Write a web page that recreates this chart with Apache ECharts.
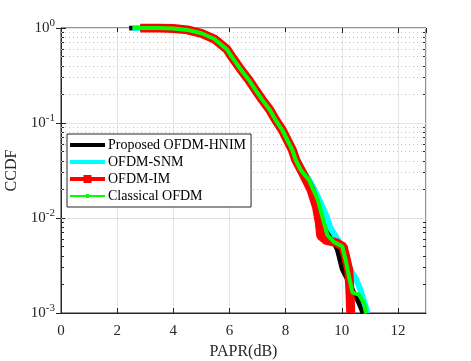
<!DOCTYPE html>
<html>
<head>
<meta charset="utf-8">
<script src="https://cdn.jsdelivr.net/npm/echarts@6/dist/echarts.min.js"></script>
<style>
  html, body { margin: 0; padding: 0; background: #fff; }
  #chart { width: 471px; height: 361px; }
</style>
</head>
<body>
<div id="chart"></div>
<script>
// PAPR (dB) / CCDF
const hnimX = [2.43, 3.0, 3.5, 4.0, 4.5, 5.0, 5.45, 5.9, 6.1, 6.39, 6.69, 6.93, 7.17, 7.44, 7.64, 7.88, 8.06, 8.24, 8.36, 8.54, 8.83, 9.15, 9.4, 9.6, 9.85, 10.02, 10.26, 10.44, 10.62, 10.76];
const hnimY = [1, 1, 1, 0.99, 0.955, 0.88, 0.77, 0.6, 0.49, 0.37, 0.284, 0.222, 0.175, 0.137, 0.108, 0.0844, 0.0662, 0.052, 0.0408, 0.032, 0.0251, 0.0155, 0.0085, 0.0066, 0.0046, 0.0029, 0.0021, 0.0016, 0.00126, 0.001];

const snmX = [2.55, 3.0, 3.5, 4.0, 4.5, 5.0, 5.45, 5.9, 6.1, 6.39, 6.69, 6.93, 7.17, 7.44, 7.64, 7.88, 8.06, 8.24, 8.4, 8.6, 8.9, 9.2, 9.45, 9.6, 9.85, 10.05, 10.2, 10.35, 10.5, 10.65, 10.8, 10.92];
const snmY = [1, 1, 1, 0.99, 0.955, 0.88, 0.77, 0.6, 0.49, 0.37, 0.284, 0.222, 0.175, 0.137, 0.108, 0.0844, 0.0662, 0.052, 0.042, 0.032, 0.0235, 0.0155, 0.0105, 0.0078, 0.006, 0.0048, 0.0035, 0.0027, 0.0023, 0.0018, 0.0013, 0.001];

const imX = [2.82, 3.0, 3.5, 4.0, 4.5, 5.0, 5.45, 5.9, 6.1, 6.39, 6.69, 6.93, 7.17, 7.44, 7.64, 7.88, 8.06, 8.24, 8.36, 8.6, 8.9, 9.1, 9.2, 9.25, 9.45, 9.8, 10.05, 10.15, 10.25, 10.29, 10.32];
const imY = [1, 1, 1, 0.99, 0.955, 0.88, 0.77, 0.6, 0.49, 0.37, 0.284, 0.222, 0.175, 0.137, 0.108, 0.0844, 0.0662, 0.052, 0.0408, 0.03, 0.02, 0.013, 0.009, 0.0065, 0.0058, 0.0055, 0.005, 0.0038, 0.0028, 0.0017, 0.001];

const ofdmX = [2.55, 3.0, 3.5, 4.0, 4.5, 5.0, 5.45, 5.9, 6.1, 6.39, 6.69, 6.93, 7.17, 7.44, 7.64, 7.88, 8.06, 8.24, 8.36, 8.54, 8.83, 9.15, 9.37, 9.49, 9.72, 10.02, 10.14, 10.26, 10.38, 10.62, 10.8, 10.86];
const ofdmY = [1, 1, 1, 0.99, 0.955, 0.88, 0.77, 0.6, 0.49, 0.37, 0.284, 0.222, 0.175, 0.137, 0.108, 0.0844, 0.0662, 0.052, 0.0408, 0.032, 0.0251, 0.0155, 0.0088, 0.0066, 0.0056, 0.005, 0.0036, 0.0024, 0.00165, 0.00155, 0.00126, 0.001];

const seriesNames = ['Proposed OFDM-HNIM', 'OFDM-SNM', 'OFDM-IM', 'Classical OFDM'];
const minorVals = [0.002, 0.003, 0.004, 0.005, 0.006, 0.007, 0.008, 0.009,
  0.02, 0.03, 0.04, 0.05, 0.06, 0.07, 0.08, 0.09,
  0.2, 0.3, 0.4, 0.5, 0.6, 0.7, 0.8, 0.9];

const zip = (xs, ys) => xs.map((x, i) => [x, ys[i]]);

const axisColor = '#262626';
const font = 'Liberation Serif, Times New Roman, serif';

// legend icons: plain line, line with square marker, thin line with dot
const iconThick = 'path://M0,0 L35,0 L35,4 L0,4 Z';
const iconSquare = 'path://M0,2 L35,2 L35,6 L0,6 Z M13.5,0 L21.5,0 L21.5,8 L13.5,8 Z';
const iconThin = 'path://M0,1 L35,1 L35,3 L0,3 Z M16,0 L19,0 L19,4 L16,4 Z';

const chart = echarts.init(document.getElementById('chart'), null, { renderer: 'canvas' });

const minorAxis = (pos) => ({
  type: 'log',
  logBase: 10,
  min: 0.001,
  max: 1,
  position: pos,
  axisLine: { show: false },
  axisLabel: { show: false },
  axisTick: { show: true, inside: true, length: 3, customValues: minorVals, lineStyle: { color: axisColor } },
  splitLine: { show: false }
});

const option = {
  backgroundColor: '#fff',
  animation: false,
  textStyle: { fontFamily: font },
  grid: {
    left: 61, right: 45, top: 28, bottom: 48,
    outerBoundsMode: 'none',
    containLabel: false,
    show: true,
    borderColor: axisColor,
    borderWidth: 1,
    backgroundColor: 'transparent'
  },
  legend: {
    orient: 'vertical',
    left: 67,
    top: 134,
    z: 20,
    itemWidth: 35,
    itemHeight: 9,
    itemGap: 1,
    padding: [3, 5, 3, 3],
    symbolKeepAspect: true,
    backgroundColor: '#fff',
    borderColor: axisColor,
    borderWidth: 1,
    borderRadius: 0,
    textStyle: { fontFamily: font, fontSize: 14, color: '#000', lineHeight: 16, padding: [0, 0, 0, -2] },
    data: [
      { name: seriesNames[0], icon: iconThick },
      { name: seriesNames[1], icon: iconThick },
      { name: seriesNames[2], icon: iconSquare },
      { name: seriesNames[3], icon: iconThin }
    ]
  },
  xAxis: [{
    type: 'value',
    min: 0,
    max: 13,
    interval: 2,
    name: 'PAPR(dB)',
    nameLocation: 'middle',
    nameGap: 31,
    nameTextStyle: { fontFamily: font, fontSize: 16, color: axisColor },
    axisLine: { lineStyle: { color: axisColor } },
    axisTick: { inside: true, length: 5, lineStyle: { color: axisColor } },
    axisLabel: { fontFamily: font, fontSize: 15, color: axisColor, margin: 11, showMaxLabel: false },
    splitLine: { show: true, lineStyle: { color: '#e5e5e5', width: 1 } }
  }, {
    type: 'value',
    min: 0,
    max: 13,
    interval: 2,
    position: 'top',
    axisLine: { show: false },
    axisTick: { inside: true, length: 5, lineStyle: { color: axisColor } },
    axisLabel: { show: false },
    splitLine: { show: false }
  }],
  yAxis: [{
    type: 'log',
    logBase: 10,
    min: 0.001,
    max: 1,
    name: 'CCDF',
    nameLocation: 'middle',
    nameGap: 29,
    nameTextStyle: { fontFamily: font, fontSize: 16, color: axisColor },
    axisLine: { show: true, lineStyle: { color: axisColor } },
    axisTick: { inside: true, length: 5, lineStyle: { color: axisColor } },
    axisLabel: {
      margin: 6,
      formatter: (v) => '{b|10}{s|' + Math.round(Math.log10(v)) + '}',
      rich: {
        b: { fontFamily: font, fontSize: 15, color: axisColor },
        s: { fontFamily: font, fontSize: 11, color: axisColor, padding: [0, 0, 9, 0] }
      }
    },
    splitLine: { show: true, lineStyle: { color: '#e5e5e5', width: 1 } }
  }, {
    type: 'log',
    logBase: 10,
    min: 0.001,
    max: 1,
    position: 'right',
    axisLine: { show: false },
    axisTick: { inside: true, length: 5, lineStyle: { color: axisColor } },
    axisLabel: { show: false },
    splitLine: { show: false }
  }, minorAxis('left'), minorAxis('right')],
  series: [
    {
      // minor dotted grid of the log axis
      name: 'minor-grid',
      type: 'line',
      data: [],
      silent: true,
      markLine: {
        silent: true,
        z: 1,
        symbol: 'none',
        label: { show: false },
        lineStyle: { color: '#c4c4c4', type: [1, 3], width: 1 },
        data: minorVals.map(v => ({ yAxis: v }))
      },
      z: 1
    },
    {
      name: seriesNames[0],
      type: 'line',
      data: zip(hnimX, hnimY),
      symbol: 'none',
      lineStyle: { color: '#000', width: 5 },
      itemStyle: { color: '#000' },
      z: 2
    },
    {
      name: seriesNames[1],
      type: 'line',
      data: zip(snmX, snmY),
      symbol: 'none',
      lineStyle: { color: '#00ffff', width: 6 },
      itemStyle: { color: '#00ffff' },
      z: 3
    },
    {
      name: seriesNames[2],
      type: 'line',
      data: zip(imX, imY),
      symbol: 'none',
      lineStyle: { color: '#ff0000', width: 9 },
      itemStyle: { color: '#ff0000' },
      z: 4
    },
    {
      name: seriesNames[3],
      type: 'line',
      data: zip(ofdmX, ofdmY),
      symbol: 'none',
      lineStyle: { color: '#00ff00', width: 4 },
      itemStyle: { color: '#00ff00' },
      z: 5
    }
  ]
};

chart.setOption(option);
</script>
</body>
</html>
